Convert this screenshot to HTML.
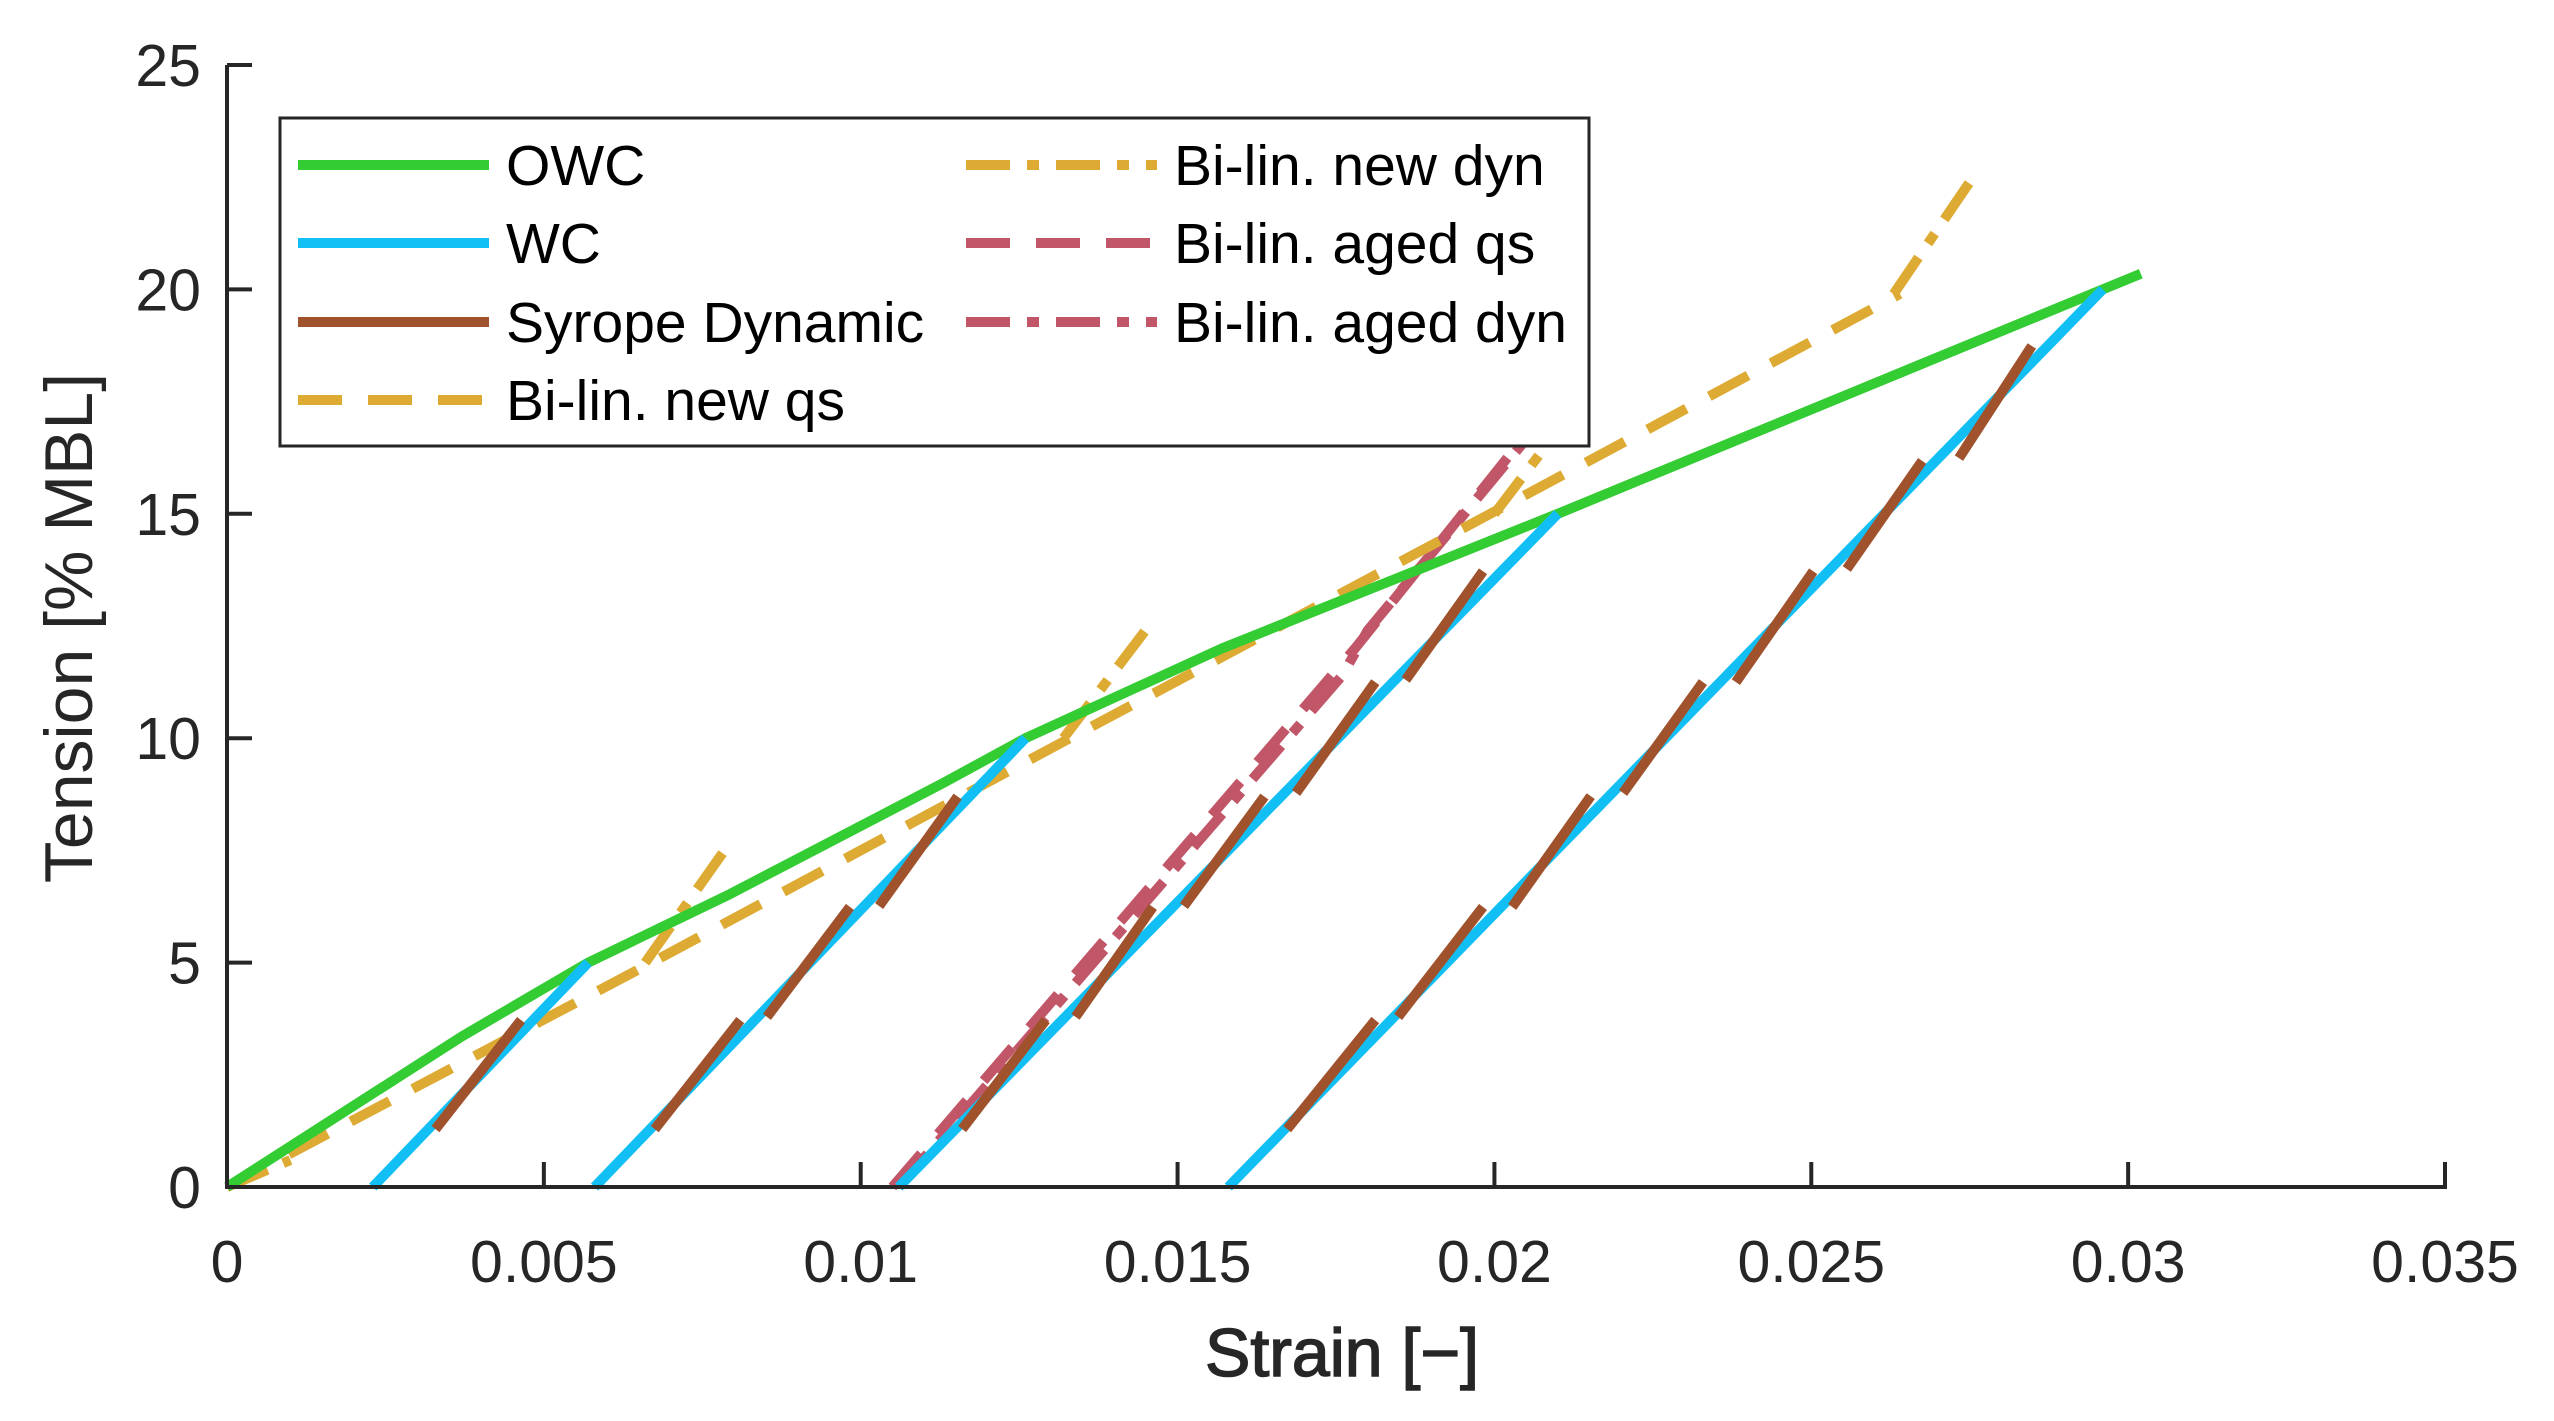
<!DOCTYPE html>
<html><head><meta charset="utf-8">
<style>
html,body{margin:0;padding:0;background:#fff;}
svg{display:block;font-family:"Liberation Sans",sans-serif;}
</style></head>
<body>
<svg id="chart" width="2554" height="1421" viewBox="0 0 2554 1421" xmlns="http://www.w3.org/2000/svg">
<g id="plot"></g>
<g id="axes"></g>
<g id="legend"></g>
</svg>
<script>
// ---- data ----
const xTicks = [0, 0.005, 0.01, 0.015, 0.02, 0.025, 0.03, 0.035];
const xTickLabels = ["0", "0.005", "0.01", "0.015", "0.02", "0.025", "0.03", "0.035"];
const yTicks = [0, 5, 10, 15, 20, 25];
const yTickLabels = ["0", "5", "10", "15", "20", "25"];
const owcX = [0, 0.0037, 0.0057, 0.0079, 0.0113, 0.0126, 0.0157, 0.021, 0.0296, 0.0302];
const owcY = [0, 3.35, 5.0, 6.5, 9.0, 10.0, 12.0, 15.0, 20.0, 20.35];
const wcSegX = [[0.0023, 0.0057], [0.0058, 0.0126], [0.0106, 0.021], [0.0158, 0.0296]];
const wcSegY = [[0, 5], [0, 10], [0, 15], [0, 20]];
const syropeX0 = [0.00329, 0.00675, 0.00852, 0.01029, 0.0116, 0.01339, 0.0151, 0.01687, 0.0186, 0.01673, 0.01848, 0.02028, 0.02203, 0.02381, 0.02556, 0.02733];
const syropeX1 = [0.00464, 0.0081, 0.00983, 0.01153, 0.01292, 0.01461, 0.01637, 0.01812, 0.01982, 0.01812, 0.01982, 0.02152, 0.02329, 0.02503, 0.02675, 0.02848];
const syropeY0 = [1.29, 1.29, 3.79, 6.26, 1.29, 3.79, 6.26, 8.78, 11.3, 1.29, 3.79, 6.24, 8.78, 11.25, 13.77, 16.24];
const syropeY1 = [3.72, 3.72, 6.24, 8.7, 3.72, 6.24, 8.7, 11.25, 13.72, 3.72, 6.24, 8.71, 11.25, 13.72, 16.18, 18.74];
const newQsX = [0, 0.0067, 0.0133, 0.0202, 0.0264];
const newQsY = [0, 5.0, 10.0, 15.2, 19.9];
const newDynX0 = [0, 0.0066, 0.0132, 0.0200, 0.0263];
const newDynY0 = [0, 5.0, 10.0, 15.0, 19.9];
const newDynX1 = [0.0010, 0.0079, 0.0146, 0.0214, 0.0276];
const newDynY1 = [0.6, 7.6, 12.6, 17.6, 22.6];
const agedQsX = [0.0105, 0.0178, 0.0208];
const agedQsY = [0, 12.0, 17.3];
const agedDynX = [0.0106, 0.0176, 0.0180, 0.0207];
const agedDynY = [0, 11.4, 12.4, 17.0];

// ---- axes ----
const X0 = 227, X1 = 2445, Y0 = 1187, Y1 = 65;
const sx = v => X0 + (v - 0) / 0.035 * (X1 - X0);
const sy = v => Y0 - v / 25 * (Y0 - Y1);
const NS = "http://www.w3.org/2000/svg";
function mk(tag, attrs, parent) {
  const e = document.createElementNS(NS, tag);
  for (const k in attrs) e.setAttribute(k, attrs[k]);
  parent.appendChild(e);
  return e;
}
const plot = document.getElementById('plot');
const axes = document.getElementById('axes');
const legend = document.getElementById('legend');
const C = {owc: "#33cc33", wc: "#12bff5", sy: "#a0522d", nq: "#ddab33", aq: "#c15668"};
const LW = 10;
const DASH = "44 26";
const DASHDOT = "44 17 12 17";

function poly(xs, ys, color, dash, name) {
  const p = mk('polyline', {points: xs.map((x, i) => sx(x) + ',' + sy(ys[i])).join(' '), fill: 'none', stroke: color, 'stroke-width': LW, 'stroke-dasharray': dash || 'none', 'stroke-linejoin': 'round'}, plot);
  
  
  return p;
}
function seg(x0, y0, x1, y1, color, dash, name) {
  const l = mk('line', {x1: sx(x0), y1: sy(y0), x2: sx(x1), y2: sy(y1), stroke: color, 'stroke-width': LW, 'stroke-dasharray': dash || 'none'}, plot);
  
  
}
poly(agedQsX, agedQsY, C.aq, DASH, 'bilin-aged-qs-line');
poly(agedDynX, agedDynY, C.aq, DASHDOT, 'bilin-aged-dyn-line');
for (let i = 0; i < newDynX0.length; i++) seg(newDynX0[i], newDynY0[i], newDynX1[i], newDynY1[i], C.nq, DASHDOT, 'bilin-new-dyn-segment');
poly(newQsX, newQsY, C.nq, DASH, 'bilin-new-qs-line');
poly(owcX, owcY, C.owc, null, 'owc-line');
for (let i = 0; i < wcSegX.length; i++) seg(wcSegX[i][0], wcSegY[i][0], wcSegX[i][1], wcSegY[i][1], C.wc, null, 'wc-segment');
for (let i = 0; i < syropeX0.length; i++) seg(syropeX0[i], syropeY0[i], syropeX1[i], syropeY1[i], C.sy, null, 'syrope-dynamic-segment');

const ax = mk('path', {d: `M${X0},${Y1} L${X0},${Y0} L${X1},${Y0} L${X1},${Y0-25}`, fill: 'none', stroke: '#262626', 'stroke-width': 4}, axes);


xTicks.forEach((t, i) => {
  const x = sx(t);
  const tk = mk('line', {x1: x, y1: Y0, x2: x, y2: Y0 - 25, stroke: '#262626', 'stroke-width': 4}, axes);
  
  
  const tx = mk('text', {x: x, y: 1282, 'text-anchor': 'middle', 'font-size': 59, fill: '#262626'}, axes);
  tx.textContent = xTickLabels[i];
  
  
});
yTicks.forEach((t, i) => {
  const y = sy(t);
  const tk = mk('line', {x1: X0, y1: y, x2: X0 + 25, y2: y, stroke: '#262626', 'stroke-width': 4}, axes);
  
  
  const tx = mk('text', {x: 201, y: y + 21, 'text-anchor': 'end', 'font-size': 59, fill: '#262626'}, axes);
  tx.textContent = yTickLabels[i];
  
  
});
const xt = mk('text', {x: 1342, y: 1376, 'text-anchor': 'middle', 'font-size': 68, fill: '#262626', stroke: '#262626', 'stroke-width': 1.5}, axes);
xt.textContent = 'Strain [\u2212]';


const yt = mk('text', {x: 0, y: 0, 'text-anchor': 'middle', 'font-size': 68, fill: '#262626', transform: 'translate(92,628) rotate(-90)'}, axes);
yt.textContent = 'Tension [% MBL]';



const box = mk('rect', {x: 280, y: 118, width: 1309, height: 328, fill: '#fff', stroke: '#262626', 'stroke-width': 3}, legend);


const entries = [
  ['OWC', C.owc, null, 298, 165], ['WC', C.wc, null, 298, 243], ['Syrope Dynamic', C.sy, null, 298, 322], ['Bi-lin. new qs', C.nq, DASH, 298, 400],
  ['Bi-lin. new dyn', C.nq, DASHDOT, 966, 165], ['Bi-lin. aged qs', C.aq, DASH, 966, 243], ['Bi-lin. aged dyn', C.aq, DASHDOT, 966, 322]
];
entries.forEach(e => {
  const g = mk('g', {}, legend);
  
  
  mk('line', {x1: e[3], y1: e[4], x2: e[3] + 191, y2: e[4], stroke: e[1], 'stroke-width': LW, 'stroke-dasharray': e[2] || 'none'}, g);
  const t = mk('text', {x: e[3] + 208, y: e[4] + 20, 'font-size': 57, fill: '#000'}, g);
  t.textContent = e[0];
});
</script>
</body></html>
